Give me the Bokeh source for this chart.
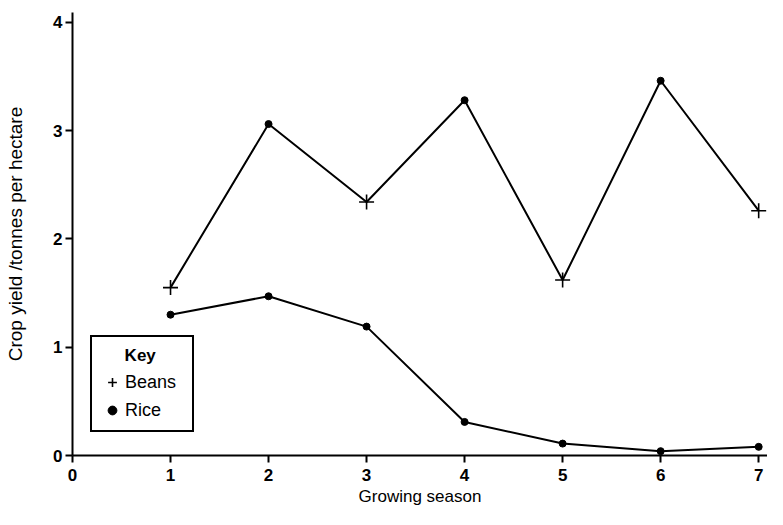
from bokeh.plotting import figure
from bokeh.models import (Range1d, Legend, LegendItem, FixedTicker, ColumnDataSource,
                          CDSView, GroupFilter)
from bokeh.embed import file_html
from bokeh.resources import INLINE

# ---- data ----
seasons = [1, 2, 3, 4, 5, 6, 7]
rotation_crop = ["Beans", "Rice", "Beans", "Rice", "Beans", "Rice", "Beans"]
rotation_yield = [1.55, 3.06, 2.34, 3.28, 1.62, 3.46, 2.26]
rice_only_yield = [1.30, 1.47, 1.19, 0.31, 0.11, 0.04, 0.08]
x_ticks = [0, 1, 2, 3, 4, 5, 6, 7]
y_ticks = [0, 1, 2, 3, 4]

FONT = "Liberation Sans"

rot_src = ColumnDataSource(dict(x=seasons, y=rotation_yield, crop=rotation_crop))
rice_src = ColumnDataSource(dict(x=seasons, y=rice_only_yield))

p = figure(width=767, height=509, output_backend="svg", toolbar_location=None,
           x_range=Range1d(0, 7.09), y_range=Range1d(0, 4.09),
           min_border_left=72, min_border_right=0, min_border_top=12,
           min_border_bottom=54)
p.outline_line_color = None
p.grid.visible = False
p.background_fill_color = "white"

p.line("x", "y", source=rot_src, line_color="black", line_width=2)
p.line("x", "y", source=rice_src, line_color="black", line_width=2)

beans_view = CDSView(filter=GroupFilter(column_name="crop", group="Beans"))
rice_view = CDSView(filter=GroupFilter(column_name="crop", group="Rice"))
beans_r = p.scatter("x", "y", source=rot_src, view=beans_view, marker="cross",
                    size=15, line_color="black", line_width=1.6)
p.scatter("x", "y", source=rot_src, view=rice_view, marker="circle",
          size=7, fill_color="black", line_color="black")
rice_r = p.scatter("x", "y", source=rice_src, marker="circle",
                   size=7, fill_color="black", line_color="black")

for ax in (p.xaxis, p.yaxis):
    ax.axis_line_color = "black"
    ax.axis_line_width = 2
    ax.major_tick_line_color = "black"
    ax.major_tick_line_width = 2
    ax.major_tick_out = 7
    ax.major_tick_in = 0
    ax.minor_tick_line_color = None
    ax.major_label_text_font = FONT
    ax.major_label_text_font_size = "17px"
    ax.major_label_text_font_style = "bold"
    ax.major_label_text_color = "black"
    ax.axis_label_text_font = FONT
    ax.axis_label_text_font_style = "normal"
    ax.axis_label_text_color = "black"

p.xaxis.ticker = FixedTicker(ticks=x_ticks)
p.yaxis.ticker = FixedTicker(ticks=y_ticks)
p.xaxis.axis_label = "Growing season"
p.yaxis.axis_label = "Crop yield /tonnes per hectare"
p.xaxis.axis_label_text_font_size = "17px"
p.yaxis.axis_label_text_font_size = "19px"
p.xaxis.major_label_standoff = 6
p.xaxis.axis_label_standoff = 3
p.yaxis.major_label_standoff = 3
p.yaxis.axis_label_standoff = 24

legend = Legend(items=[LegendItem(label="Beans", renderers=[beans_r]),
                       LegendItem(label="Rice", renderers=[rice_r])],
                title="\u00a0" * 5 + "Key", location=(18, 23))
legend.title_text_font = FONT
legend.title_text_font_style = "bold"
legend.title_text_font_size = "17px"
legend.title_text_color = "black"
legend.label_text_font = FONT
legend.label_text_font_size = "18px"
legend.label_text_color = "black"
legend.border_line_color = "black"
legend.border_line_alpha = 1
legend.border_line_width = 2
legend.background_fill_color = "white"
legend.background_fill_alpha = 1
legend.padding = 9
legend.spacing = 6
legend.glyph_width = 22
legend.glyph_height = 22
legend.label_height = 22
legend.label_width = 58
legend.label_standoff = 2
legend.title_standoff = 5
p.add_layout(legend)

open("out.html", "w").write(file_html(p, INLINE))
